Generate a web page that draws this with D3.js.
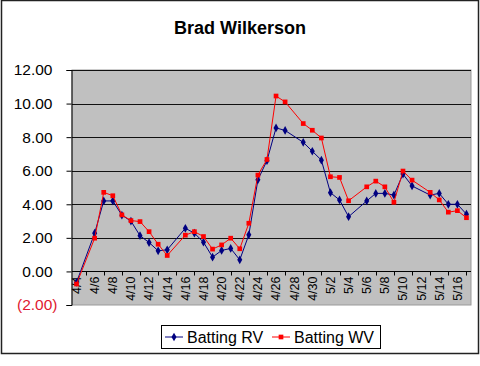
<!DOCTYPE html>
<html>
<head>
<meta charset="utf-8">
<script src="https://cdn.jsdelivr.net/npm/d3@7"></script>
<style>
  body { margin: 0; background: #fff; }
  svg { display: block; font-family: Arial, "Liberation Sans", sans-serif; }
</style>
</head>
<body>
<svg id="chart" width="480" height="366"></svg>
<script>
const title = "Brad Wilkerson";
const dates = ["4/4", "4/6", "4/7", "4/8", "4/9", "4/10", "4/11", "4/12", "4/13", "4/14",
  "4/16", "4/17", "4/18", "4/19", "4/20", "4/21", "4/22", "4/23", "4/24", "4/25",
  "4/26", "4/27", "4/29", "4/30", "5/1", "5/2", "5/3", "5/4", "5/6", "5/7",
  "5/8", "5/9", "5/10", "5/11", "5/13", "5/14", "5/15", "5/16", "5/17"];
const battingRV = [-0.65, 2.28, 4.2, 4.2, 3.35, 3.0, 2.13, 1.72, 1.23, 1.29,
  2.57, 2.28, 1.74, 0.85, 1.25, 1.37, 0.69, 2.18, 5.46, 6.6,
  8.55, 8.4, 7.69, 7.16, 6.63, 4.69, 4.26, 3.26, 4.2, 4.65,
  4.65, 4.55, 5.8, 5.09, 4.55, 4.65, 4.0, 4.0, 3.41];
const battingWV = [-0.75, 1.98, 4.71, 4.51, 3.37, 3.03, 2.97, 2.37, 1.62, 0.95,
  2.16, 2.37, 2.08, 1.33, 1.58, 1.98, 1.35, 2.87, 5.74, 6.67,
  10.45, 10.1, 8.81, 8.41, 7.95, 5.64, 5.6, 4.21, 5.04, 5.38,
  5.04, 4.12, 5.98, 5.44, 4.71, 4.26, 3.53, 3.62, 3.2];
const yTicks = [-2, 0, 2, 4, 6, 8, 10, 12];
const seriesNames = ["Batting RV", "Batting WV"];

const svg = d3.select("#chart");
const parse = d3.timeParse("%m/%d");
const fmtDay = d3.timeFormat("%-m/%-d");

// every calendar day from first to last game gets a slot
const days = d3.timeDay.range(parse(dates[0]), d3.timeDay.offset(parse(dates[dates.length - 1]), 1));

const plotLeft = 72, plotRight = 471, plotTop = 70, plotBottom = 305;

const x = d3.scaleBand()
  .domain(days.map(fmtDay))
  .range([plotLeft, plotRight]);
const y = d3.scaleLinear()
  .domain([-2, 12])
  .range([plotBottom, plotTop]);
const cx = d => x(d) + x.bandwidth() / 2;

// chart border
svg.append("rect")
  .attr("x", 1.5).attr("y", 0.5)
  .attr("width", 477).attr("height", 353)
  .attr("fill", "#fff")
  .attr("stroke", "#222")
  .attr("stroke-width", 1.5);

svg.append("text")
  .attr("x", 240).attr("y", 34)
  .attr("text-anchor", "middle")
  .attr("font-size", 18)
  .attr("font-weight", "bold")
  .text(title);

// plot area
svg.append("rect")
  .attr("x", plotLeft).attr("y", plotTop)
  .attr("width", plotRight - plotLeft).attr("height", plotBottom - plotTop)
  .attr("fill", "#c0c0c0")
  .attr("stroke", "#9a9a9a")
  .attr("stroke-width", 1);

//gridlines
svg.selectAll("line.grid")
  .data(yTicks.filter(t => t > -2))
  .enter()
  .append("line")
  .attr("class", "grid")
  .attr("x1", plotLeft).attr("x2", plotRight)
  .attr("y1", d => Math.round(y(d)) + 0.5)
  .attr("y2", d => Math.round(y(d)) + 0.5)
  .attr("stroke", "#111")
  .attr("stroke-width", 1.2);

// y axis
const yAxis = d3.axisLeft(y)
  .tickValues(yTicks)
  .tickSize(5)
  .tickPadding(0)
  .tickFormat(d => d < 0 ? "(" + d3.format(".2f")(-d) + ")" : d3.format(".2f")(d));
const yg = svg.append("g")
  .attr("transform", `translate(${plotLeft - 0.5},0)`)
  .call(yAxis);
yg.select(".domain").attr("stroke", "#000");
yg.selectAll(".tick line").attr("stroke", "#000");
yg.selectAll(".tick text")
  .attr("font-size", 15.5)
  .attr("font-family", "Arial, 'Liberation Sans', sans-serif")
  .attr("fill", d => d < 0 ? "#e01830" : "#000")
  .attr("x", d => d < 0 ? -14 : -19);

// x axis at zero
const y0 = Math.round(y(0)) + 0.5;
svg.append("line")
  .attr("x1", plotLeft).attr("x2", plotRight)
  .attr("y1", y0).attr("y2", y0)
  .attr("stroke", "#000");

svg.selectAll("line.xtick")
  .data(days.filter((d, i) => i % 2 === 1))
  .enter()
  .append("line")
  .attr("class", "xtick")
  .attr("x1", d => Math.round(cx(fmtDay(d))) + 0.5)
  .attr("x2", d => Math.round(cx(fmtDay(d))) + 0.5)
  .attr("y1", y0).attr("y2", y0 + 4)
  .attr("stroke", "#000");

svg.selectAll("text.xlabel")
  .data(days.filter((d, i) => i % 2 === 0))
  .enter()
  .append("text")
  .attr("class", "xlabel")
  .attr("transform", d => `translate(${cx(fmtDay(d))},${y0 + 5}) rotate(-90)`)
  .attr("text-anchor", "end")
  .attr("dy", "0.35em")
  .attr("font-size", 12.5)
  .text(d => fmtDay(d));

// series
const series = [
  { name: seriesNames[0], values: battingRV, color: "#000080", shape: d3.symbolDiamond, size: 22 },
  { name: seriesNames[1], values: battingWV, color: "#ff0000", shape: d3.symbolSquare, size: 22 }
];

const line = d3.line()
  .x(d => cx(d.date))
  .y(d => y(d.value));

series.forEach(s => {
  const pts = dates.map((d, i) => ({ date: fmtDay(parse(d)), value: s.values[i] }));
  svg.append("path")
    .datum(pts)
    .attr("fill", "none")
    .attr("stroke", s.color)
    .attr("stroke-width", 1)
    .attr("d", line);
  svg.selectAll(null)
    .data(pts)
    .enter()
    .append("path")
    .attr("transform", d => `translate(${cx(d.date)},${y(d.value)})`)
    .attr("d", d3.symbol().type(s.shape).size(s.size))
    .attr("fill", s.color);
});

// legend
const lg = svg.append("g");
lg.append("rect")
  .attr("x", 161.5).attr("y", 325.5)
  .attr("width", 219).attr("height", 23)
  .attr("fill", "#fff")
  .attr("stroke", "#000");

const legendX = [165, 272];
series.forEach((s, i) => {
  lg.append("line")
    .attr("x1", legendX[i]).attr("x2", legendX[i] + 18)
    .attr("y1", 337).attr("y2", 337)
    .attr("stroke", s.color);
  lg.append("path")
    .attr("transform", `translate(${legendX[i] + 9},337)`)
    .attr("d", d3.symbol().type(s.shape).size(s.size))
    .attr("fill", s.color);
  lg.append("text")
    .attr("x", legendX[i] + 22).attr("y", 337)
    .attr("dy", "0.35em")
    .attr("font-size", 16)
    .text(s.name);
});
</script>
</body>
</html>
